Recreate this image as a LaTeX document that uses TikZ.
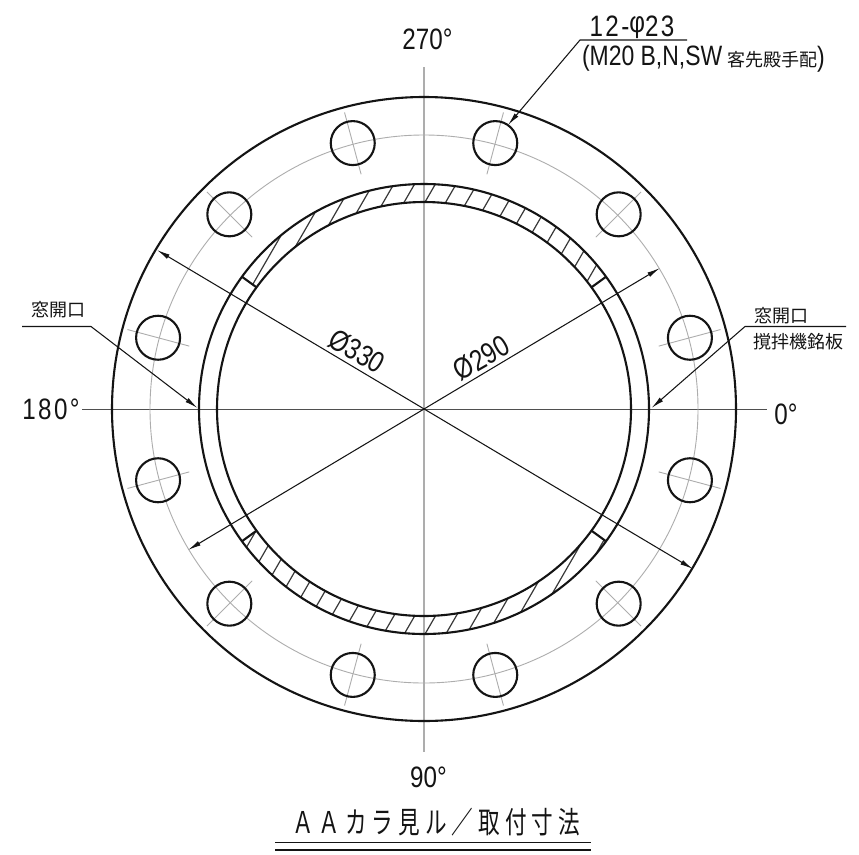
\documentclass[tikz,border=0pt]{standalone}
\usepackage{fontspec}
\setmainfont{Liberation Sans}
\newfontfamily\cad[FakeStretch=0.82]{Liberation Sans}
\newfontfamily\cadw[FakeStretch=0.82,LetterSpace=8]{Liberation Sans}
\newfontfamily\cadj{Noto Sans CJK JP}
\newfontfamily\cadt[FakeStretch=0.72,LetterSpace=16.7]{Noto Sans CJK JP}
\usetikzlibrary{arrows.meta,calc}
\definecolor{ink}{gray}{0.08}
\definecolor{cen}{gray}{0.68}
\tikzset{
  heavy/.style={draw=ink,line width=2.1pt},
  thinl/.style={draw=ink,line width=1.1pt},
  center/.style={draw=cen,line width=0.9pt},
  hatchl/.style={draw=ink!85,line width=1.2pt},
  dimline/.style={draw=ink,line width=1.05pt,{Latex[length=13pt,width=5pt]}-{Latex[length=13pt,width=5pt]}},
  leaderl/.style={draw=ink,line width=1.05pt,-{Latex[length=13pt,width=5pt]}},
  lab/.style={inner sep=0pt,outer sep=0pt,text=ink,font=\cad\fontsize{29.5}{29.5}\selectfont},
  labw/.style={inner sep=0pt,outer sep=0pt,text=ink,font=\cadw\fontsize{29.5}{29.5}\selectfont},
  jlab/.style={inner sep=0pt,outer sep=0pt,text=ink,font=\cadj\fontsize{18}{18}\selectfont},
}
\begin{document}
\begin{tikzpicture}[x=1pt,y=-1pt]
\useasboundingbox (0,0) rectangle (859,854);
\fill[white] (0,0) rectangle (859,854);
\coordinate (C) at (424,409);
% hatching of the ring
\begin{scope}
  \clip (C) circle[radius=225pt];
  \clip (424,409) -- (699,209) -- (764,-40) -- (84,-40) -- (149,209) -- cycle
        (424,409) -- (699,609) -- (764,860) -- (84,860) -- (149,609) -- cycle;
  \foreach \k in {0,...,40}{
    \pgfmathsetmacro{\d}{-120.6+18*(\k-20)}
    \pgfmathsetmacro{\px}{424+\d*0.866}
    \pgfmathsetmacro{\py}{409+\d*0.5}
    \draw[hatchl] (\px-150,\py+259.8) -- (\px+150,\py-259.8);
  }
\end{scope}
\fill[white] (C) circle[radius=207pt];
% centre lines
\draw[draw=cen,line width=1.3pt] (424,67) -- (424,752);
\draw[draw=ink!75,line width=0.7pt] (82,409) -- (767,409);
% bolt circle
\draw[center] (C) circle[radius=274pt];
% main circles
\draw[heavy] (C) circle[radius=312pt];
\draw[heavy] (C) circle[radius=225pt];
\draw[heavy] (C) circle[radius=207pt];
% window ends
\foreach \a in {36,144,-36,-144}{
  \draw[heavy] ($(C)+(\a:207pt)$) -- ($(C)+(\a:225pt)$);
}
% bolts
\foreach \a in {15,45,...,345}{
  \draw[center] ($(C)+(\a:243pt)$) -- ($(C)+(\a:307pt)$);
  \draw[heavy] ($(C)+(\a:275.3pt)$) circle[radius=22pt];
}
% dimensions
\coordinate (d1a) at (157,250); \coordinate (d1b) at (693,569);
\coordinate (d2a) at (660,268); \coordinate (d2b) at (188,550);
\draw[dimline] (d1a) -- (d1b);
\draw[dimline] (d2a) -- (d2b);
\node[lab,rotate=-30] (t330) at (357,351) {Ø330};
\node[lab,rotate=30] (t290) at (481.5,358) {Ø290};
% leaders
\coordinate (l1s) at (687,40); \coordinate (l1k) at (580,40); \coordinate (l1t) at (508,125);
\draw[leaderl] (l1s) -- (l1k) -- (l1t);
\coordinate (l2s) at (22,326.5); \coordinate (l2k) at (91,326.5); \coordinate (l2t) at (197.5,408);
\draw[leaderl] (l2s) -- (l2k) -- (l2t);
\coordinate (l3s) at (846,326.5); \coordinate (l3k) at (745,326.5); \coordinate (l3t) at (651.5,408);
\draw[leaderl] (l3s) -- (l3k) -- (l3t);
% texts
\node[lab] (a270) at (427.5,39) {270°};
\node[labw] (a180) at (51,409) {180°};
\node[lab] (a0) at (786,414) {0°};
\node[lab] (a90) at (428.5,777) {90°};
\node[labw,anchor=base] (n1) at (632,36) {12-\raisebox{3.5pt}{φ}23};
\node[lab,anchor=west,font=\cad\fontsize{28}{28}\selectfont] (n2) at (582,58) {(M20 B,N,SW};
\node[jlab,anchor=west] (n2b) at (727,59) {客先殿手配\cad\fontsize{28}{28}\selectfont)};
\node[jlab] (w1) at (58,310) {窓開口};
\node[jlab] (w2) at (781,315.5) {窓開口};
\node[jlab] (w3) at (798,342) {撹拌機銘板};
\node[inner sep=0pt,outer sep=0pt,text=ink,font=\cadt\fontsize{30}{30}\selectfont] (title) at (436,822) {ＡＡカラ見ル／取付寸法};
\coordinate (u1a) at (275,842.5); \coordinate (u1b) at (591,842.5);
\coordinate (u2a) at (275,850); \coordinate (u2b) at (591,850);
\draw[thinl] (u1a) -- (u1b);
\draw[thinl] (u2a) -- (u2b);
\end{tikzpicture}
\end{document}
